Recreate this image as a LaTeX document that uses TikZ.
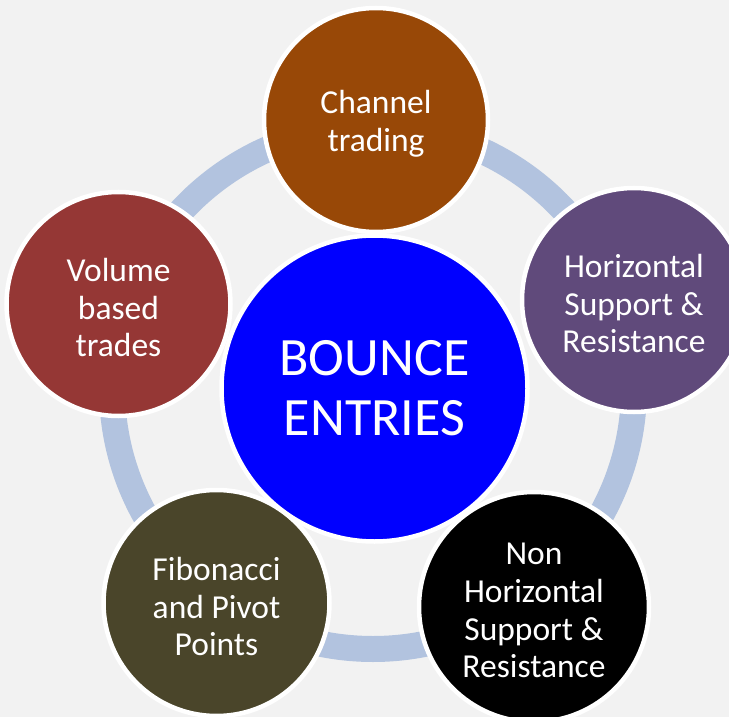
\documentclass[tikz,border=0pt]{standalone}
\usepackage{fontspec}
\setmainfont{Carlito}
\definecolor{bgcol}{HTML}{F2F2F2}
\definecolor{ringcol}{HTML}{B2C3DF}
\definecolor{browncol}{HTML}{984807}
\definecolor{purplecol}{HTML}{604A7B}
\definecolor{redcol}{HTML}{953735}
\definecolor{olivecol}{HTML}{4A452A}
\definecolor{centercol}{HTML}{0000FF}
\tikzset{
  sat/.style={circle, draw=white, line width=4.5pt, inner sep=0pt, minimum size=224pt},
  sattext/.style={text=white, align=center, inner sep=0pt, yshift=-3.5pt,
    font=\fontsize{33.5}{37.8}\selectfont},
  hub/.style={circle, draw=white, line width=4.5pt, inner sep=0pt, minimum size=306pt,
    fill=centercol, text=white, align=center, font=\fontsize{54}{60}\selectfont},
  ring/.style={draw=ringcol, line width=26pt}
}
\begin{document}
\begin{tikzpicture}[x=1pt,y=-1pt]
\useasboundingbox (0,0) rectangle (729,717);
\clip (0,0) rectangle (729,717);
\fill[bgcol] (0,0) rectangle (729,717);
\coordinate (ringc) at (373,388);
\draw[ring] (ringc) circle[radius=261pt];
\node[hub] (hub) at (374.5,388.5) {BOUNCE\\ENTRIES};
\node[sat, fill=browncol] (top) at (376,120) {};
\node[sat, fill=purplecol] (right) at (634,300) {};
\node[sat, fill=black, minimum size=230pt] (bright) at (534,607) {};
\node[sat, fill=olivecol, minimum size=226pt] (bleft) at (216.5,603) {};
\node[sat, fill=redcol] (left) at (118.5,304) {};
\node[sattext] (toptext) at (top.center) {Channel\\trading};
\node[sattext] (righttext) at (right.center) {Horizontal\\Support \&\\Resistance};
\node[sattext] (brighttext) at (bright.center) {Non\\Horizontal\\Support \&\\Resistance};
\node[sattext] (blefttext) at (bleft.center) {Fibonacci\\and Pivot\\Points};
\node[sattext] (lefttext) at (left.center) {Volume\\based\\trades};
\end{tikzpicture}
\end{document}
